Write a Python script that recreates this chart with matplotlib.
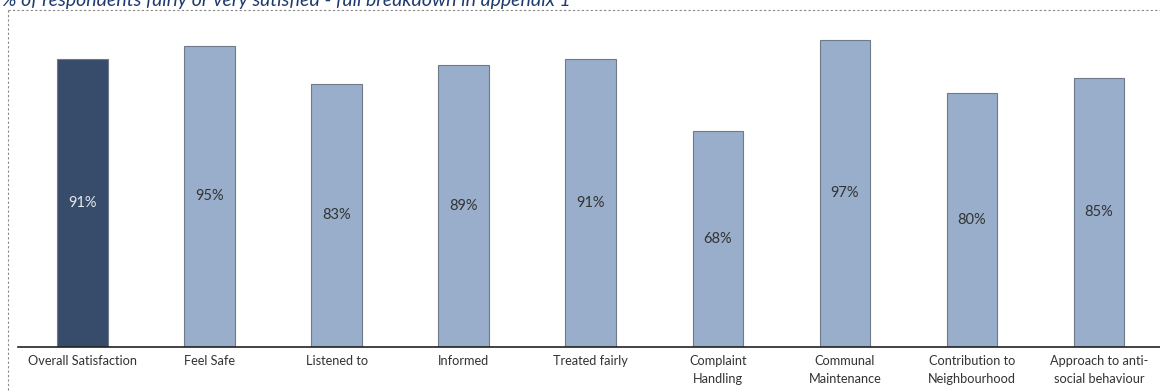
import matplotlib
matplotlib.use("Agg")
import matplotlib.pyplot as plt
from matplotlib.lines import Line2D

categories = ["Overall Satisfaction", "Feel Safe", "Listened to", "Informed", "Treated fairly",
              "Complaint\nHandling", "Communal\nMaintenance", "Contribution to\nNeighbourhood",
              "Approach to anti-\nsocial behaviour"]
values = [91, 95, 83, 89, 91, 68, 97, 80, 85]
value_labels = ["91%", "95%", "83%", "89%", "91%", "68%", "97%", "80%", "85%"]
title = "% of respondents fairly or very satisfied - full breakdown in appendix 1"

plt.rcParams['font.family'] = ['Lato', 'DejaVu Sans']

fig = plt.figure(figsize=(11.6, 3.92), dpi=100)
W, H = 1160, 392
base_y = 347
ax = fig.add_axes([18 / W, (H - base_y) / H, 1 - 18 / W, (base_y - 12) / H])

colors = ["#374C6A"] + ["#99AECB"] * (len(values) - 1)
x = list(range(len(values)))
ax.bar(x, values, width=0.4, color=colors, edgecolor="#6E7A8A", linewidth=0.8, zorder=2)
ax.set_xlim(-0.51, 8.48)
ax.set_ylim(0, 105.7)

for i, (v, lab) in enumerate(zip(values, value_labels)):
    ax.text(i, v / 2, lab, ha="center", va="center", fontsize=10.5,
            color="#E6E9EE" if i == 0 else "#333333", zorder=3)

ax.set_xticks(x)
ax.set_xticklabels(categories, fontsize=9.2, color="#333333", linespacing=1.55)
ax.tick_params(axis="x", length=0, pad=6)
ax.set_yticks([])
for s in ["top", "right", "left"]:
    ax.spines[s].set_visible(False)
ax.spines["bottom"].set_color("#222222")
ax.spines["bottom"].set_linewidth(1.2)

# dotted frame
fig.add_artist(Line2D([8 / W, 1.0], [1 - 10 / H, 1 - 10 / H], transform=fig.transFigure,
                      color="#888888", linestyle=(0, (2, 2)), linewidth=0.8))
fig.add_artist(Line2D([8 / W, 8 / W], [1 - 10 / H, 0], transform=fig.transFigure,
                      color="#888888", linestyle=(0, (2, 2)), linewidth=0.8))

fig.text(2 / W, 1 - 6 / H, title, ha="left", va="baseline", fontsize=14,
         style="italic", color="#1F3A6E")

fig.savefig("out.png", dpi=100)
